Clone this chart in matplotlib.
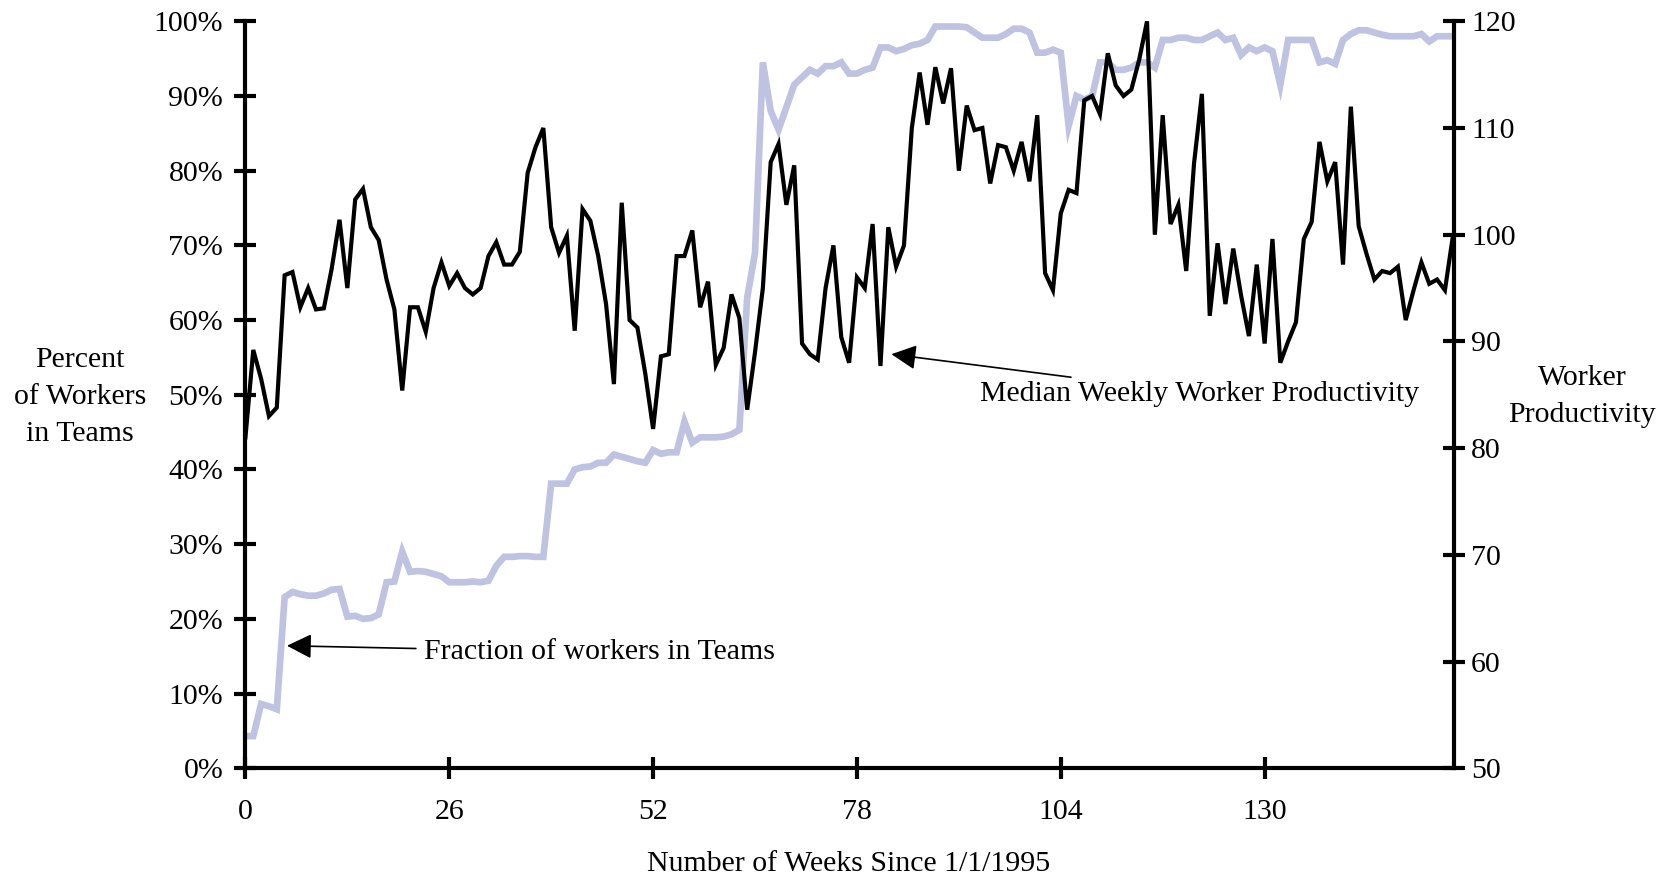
import matplotlib.pyplot as plt
import matplotlib.ticker as mtick
import numpy as np

plt.rcParams["font.family"] = ["Liberation Serif", "DejaVu Serif"]

weeks = np.arange(155)

# percent of workers in teams (left axis)
team_share = [
    4.3, 4.3, 8.6, 8.3, 7.9, 22.9, 23.6, 23.3, 23.1, 23.1,
    23.4, 23.9, 24.0, 20.3, 20.4, 20.0, 20.1, 20.6, 24.9, 25.0,
    29.0, 26.3, 26.4, 26.3, 26.0, 25.7, 24.9, 24.9, 24.9, 25.0,
    24.9, 25.1, 27.1, 28.3, 28.3, 28.4, 28.4, 28.3, 28.3, 38.1,
    38.1, 38.1, 40.0, 40.3, 40.4, 40.9, 40.9, 42.0, 41.7, 41.4,
    41.1, 40.9, 42.6, 42.1, 42.3, 42.3, 46.4, 43.6, 44.3, 44.3,
    44.3, 44.4, 44.7, 45.3, 63.0, 69.0, 94.5, 88.0, 85.5, 88.5,
    91.5, 92.5, 93.5, 93.0, 94.0, 94.0, 94.5, 93.0, 93.0, 93.5,
    93.8, 96.5, 96.5, 96.0, 96.3, 96.8, 97.0, 97.5, 99.3, 99.3,
    99.3, 99.3, 99.2, 98.5, 97.8, 97.8, 97.8, 98.3, 99.0, 99.0,
    98.5, 95.8, 95.8, 96.2, 95.8, 86.0, 90.0, 89.5, 90.0, 94.5,
    94.5, 93.5, 93.5, 93.8, 94.5, 94.5, 93.8, 97.5, 97.5, 97.8,
    97.8, 97.5, 97.5, 98.0, 98.5, 97.5, 97.8, 95.5, 96.5, 96.0,
    96.5, 96.0, 91.5, 97.5, 97.5, 97.5, 97.5, 94.5, 94.8, 94.3,
    97.5, 98.3, 98.8, 98.8, 98.5, 98.2, 98.0, 98.0, 98.0, 98.0,
    98.3, 97.3, 98.0, 98.0, 98.0,
]

# median weekly worker productivity (right axis)
productivity = [
    81.0, 89.2, 86.5, 83.0, 83.8, 96.2, 96.5, 93.2, 95.0, 93.0,
    93.1, 96.8, 101.4, 95.0, 103.3, 104.3, 100.7, 99.5, 95.8, 93.0,
    85.4, 93.2, 93.2, 90.9, 95.0, 97.4, 95.2, 96.4, 95.0, 94.4,
    95.0, 98.0, 99.3, 97.2, 97.2, 98.4, 105.8, 108.2, 110.0, 100.7,
    98.3, 99.9, 91.0, 102.4, 101.3, 98.0, 93.5, 86.0, 103.0, 92.0,
    91.3, 87.0, 81.8, 88.6, 88.8, 98.0, 98.0, 100.4, 93.2, 95.6,
    87.8, 89.4, 94.4, 92.2, 83.6, 89.0, 95.0, 106.8, 108.5, 102.8,
    106.5, 89.8, 88.8, 88.3, 95.0, 99.0, 90.4, 88.0, 96.0, 95.0,
    101.0, 87.7, 100.7, 97.0, 99.0, 110.0, 115.2, 110.3, 115.7, 112.3,
    115.6, 106.0, 112.1, 109.8, 110.0, 104.8, 108.4, 108.2, 106.0, 108.7,
    105.0, 111.2, 96.4, 94.8, 102.0, 104.2, 103.9, 112.6, 113.0, 111.3,
    117.0, 114.0, 113.0, 113.6, 116.4, 120.0, 100.0, 111.2, 101.0, 102.8,
    96.6, 106.7, 113.2, 92.4, 99.2, 93.5, 98.7, 94.3, 90.5, 97.2,
    89.8, 99.6, 88.0, 90.0, 91.8, 99.6, 101.2, 108.7, 105.0, 106.8,
    97.2, 112.0, 100.8, 98.2, 95.8, 96.6, 96.4, 97.0, 92.0, 94.8,
    97.4, 95.4, 95.8, 94.8, 99.8,
]

x_ticks = [0, 26, 52, 78, 104, 130]
lavender = "#BFC2E0"
font_size = 21.5

figure, axis = plt.subplots(figsize=(16.73, 8.8), dpi=100)
figure.subplots_adjust(left=0.1467, right=0.8693, top=0.9758, bottom=0.127)
axis_right = axis.twinx()

axis.plot(weeks, team_share, color=lavender, linewidth=4.8,
          solid_joinstyle="miter")
axis_right.plot(weeks, productivity, color="black", linewidth=3.0,
                solid_joinstyle="miter")

axis.set_xlim(0, 154.2)
axis.set_ylim(0, 100)
axis_right.set_ylim(50, 120)
axis.set_xticks(x_ticks)
axis.set_yticks(np.arange(0, 101, 10))
axis_right.set_yticks(np.arange(50, 121, 10))
axis.yaxis.set_major_formatter(mtick.StrMethodFormatter("{x:.0f}%"))

for ax in (axis, axis_right):
    ax.spines["top"].set_visible(False)
    for side in ("left", "right", "bottom"):
        ax.spines[side].set_linewidth(3.0)
axis.spines["right"].set_visible(False)
axis_right.spines["left"].set_visible(False)
axis_right.spines["bottom"].set_visible(False)

axis.tick_params(axis="y", direction="inout", length=16, width=3.0,
                 labelsize=font_size, pad=8)
axis.tick_params(axis="x", direction="inout", length=16, width=3.0,
                 labelsize=font_size, pad=14)
axis_right.tick_params(axis="y", direction="inout", length=16, width=3.0,
                       labelsize=font_size, pad=4)

figure.text(0.048, 0.549, "Percent\nof Workers\nin Teams", ha="center",
            va="center", multialignment="center", fontsize=font_size,
            linespacing=1.55)
figure.text(0.9457, 0.549, "Worker\nProductivity", ha="center", va="center",
            multialignment="center", fontsize=font_size, linespacing=1.55)
figure.text(0.507, 0.018, "Number of Weeks Since 1/1/1995", ha="center",
            va="center", fontsize=font_size)

arrow = dict(arrowstyle="-|>", color="black", linewidth=1.2,
             mutation_scale=38, shrinkA=4, shrinkB=0)
axis.annotate("Fraction of workers in Teams", xy=(5.3, 16.4),
              xytext=(22.8, 15.5), ha="left", va="center",
              fontsize=font_size, arrowprops=arrow)
axis_right.annotate("Median Weekly Worker Productivity", xy=(82.4, 88.8),
                    xytext=(93.7, 85.1), ha="left", va="center",
                    fontsize=font_size, arrowprops=arrow)

figure.savefig("out.png", dpi=100)
plt.close(figure)
